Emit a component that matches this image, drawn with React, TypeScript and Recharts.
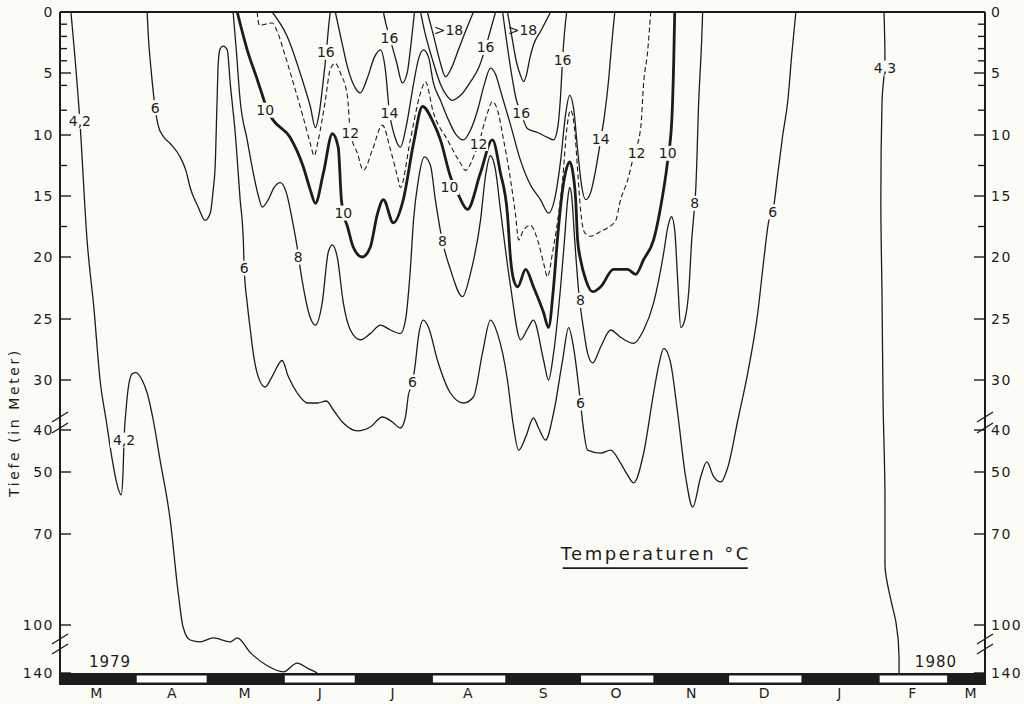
import { LineChart, Line, XAxis, YAxis, ReferenceDot, ReferenceArea, ReferenceLine } from "recharts";

const FONT = "'DejaVu Sans', 'Noto Sans', sans-serif";
const INK = "#1c1c1c";
const PAPER = "#fcfcf6";

// time axis: days since 1 March 1979
const MONTH_STARTS = [0, 31, 61, 92, 122, 153, 184, 214, 245, 275, 306, 337, 366, 381];
const MONTH_TICKS = [15, 46, 76, 107, 137, 168, 199, 229, 260, 290, 321, 351, 375];
const MONTH_LABELS = ["M", "A", "M", "J", "J", "A", "S", "O", "N", "D", "J", "F", "M"];

// broken depth axis (metres) -> plot units
const DEPTH_KNOTS = [0, 5, 10, 15, 20, 25, 30, 40, 50, 70, 100, 140];
const KNOT_POS = [0, 61, 123, 184, 245, 307, 368, 418, 460, 522, 613, 661];
const PLOT_H = 673;
const MAJOR_DEPTHS = [0, 5, 10, 15, 20, 25, 30, 40, 50, 70, 100, 140];
const MINOR_DEPTHS = [1, 2, 3, 4, 6, 8, 12.5, 17.5];
const BREAK_POS = [405, 416, 627, 637];

// isotherms: [day, depth m]
const ISO_42 = [[4.5, 0], [8.2, 8.9], [11.1, 18.5], [14, 24.2], [16.5, 30], [19, 38], [21.5, 47], [23.5, 54], [25.2, 57.4], [26, 49.5], [26.4, 42], [27.2, 36], [28, 32], [29.7, 29.5], [31.3, 29.4], [33.8, 30], [35.9, 32.6], [38.4, 38], [41.2, 47.1], [45.4, 65.5], [48.7, 89.5], [50.7, 101.7], [53.6, 112.5], [57.7, 114], [63.1, 110.8], [70.1, 114], [73, 110.8], [78.4, 123], [85.4, 134], [92, 139], [97.7, 131.7], [101.9, 136], [106, 140]];

const ISO_6 = [[35.9, 0], [36.3, 1.7], [37.5, 4.7], [39.2, 7.8], [40.4, 9.2], [42.5, 10.1], [45.4, 10.7], [49.5, 11.8], [52, 13], [53.6, 14.3], [56.9, 15.9], [59.8, 17], [61.9, 16.4], [63.1, 14.5], [63.9, 12.6], [64.7, 7.2], [65.2, 4.1], [66, 3], [67.2, 2.8], [68.9, 3.1], [70.1, 5.8], [72.2, 9.9], [74.2, 15.3], [75.5, 18.6], [75.9, 21], [77.1, 23.7], [78.4, 25.9], [79.6, 27.8], [81.6, 29.7], [84.5, 31.4], [87.4, 29.7], [91.5, 28.4], [94, 29.7], [97.7, 32.6], [101.9, 34.6], [106, 34.6], [109.7, 34.2], [112.6, 36], [116.7, 38.6], [122.5, 40.2], [127.8, 39.4], [132.8, 37.4], [136.9, 38.4], [140.2, 39.6], [142.3, 37.4], [143.5, 33], [145.2, 30.6], [146.4, 28.6], [147.6, 26.5], [149.7, 25.1], [151.8, 25.7], [155.5, 28.4], [160.8, 32.6], [166.2, 34.6], [170.3, 33.4], [174, 27.8], [177.3, 25.1], [180.2, 26.2], [184.3, 30], [186.4, 38], [188.9, 44.8], [191.8, 41.7], [195, 37.6], [197.1, 39.6], [200, 42.4], [203.3, 36.6], [207, 28.4], [209.5, 25.7], [211.5, 27.3], [214.4, 34.6], [215.3, 38.6], [217.3, 44.8], [222.7, 45.5], [226.8, 44.8], [230.9, 47.9], [233.8, 51], [236.3, 53.5], [240.4, 45.5], [244.5, 32.6], [246.6, 28.8], [248.7, 27.4], [251.5, 28.6], [254.4, 36.6], [257.7, 51.6], [260.6, 61.3], [263.9, 51.6], [266.4, 47.6], [269.3, 51.6], [272.2, 53.2], [275.1, 48.8], [279.2, 38], [283.3, 29.4], [287.4, 24.5], [289.9, 20.2], [292, 17], [293.6, 16.3], [295.7, 13.1], [297.7, 10], [299.8, 7.2], [301.4, 3.5], [303.1, 0]];

const ISO_8 = [[71.3, 0], [72.6, 3.1], [74.2, 7.2], [77.1, 10.4], [79.6, 13.1], [81.6, 14.9], [83.3, 15.9], [85.8, 15.3], [88.2, 14.3], [90.7, 13.9], [93.2, 14.7], [95.7, 17], [97.7, 19.2], [99, 21], [100.2, 22.4], [103.1, 24.9], [105.2, 25.5], [108, 23.7], [110.5, 19.6], [112.2, 19], [114.2, 20], [116.7, 23.7], [119.6, 25.9], [123.7, 26.7], [127.8, 26.2], [132, 25.5], [136.1, 25.9], [140.2, 26.2], [142.3, 25.1], [144.3, 21], [145.6, 17], [147.6, 13.7], [150.1, 11.8], [152.6, 12.5], [154.6, 15.3], [157.5, 18.7], [160.8, 21], [165.8, 23.2], [169.1, 21.3], [173.2, 17], [175.3, 13.3], [177.3, 11.7], [179.4, 12.9], [181.4, 16.1], [185.6, 22.4], [189.7, 26.7], [192.6, 25.8], [195, 25.1], [199.2, 28.4], [201.2, 30], [203.3, 27.8], [206.2, 22.4], [207.8, 18.6], [209.1, 15.3], [209.9, 14.3], [210.7, 14.9], [212, 18.6], [213.6, 22.7], [215.7, 25.9], [217.3, 27.8], [219.4, 28.6], [222.7, 27.3], [226.8, 25.9], [230.9, 26.5], [236.3, 27], [240.4, 25.9], [244.5, 23.7], [248.7, 19.6], [250.3, 17.6], [251.9, 16.7], [253.2, 17.8], [254.4, 21.8], [255.7, 25.7], [257.3, 25.1], [259, 22.7], [260.2, 18.6], [261, 16.7], [261.9, 14.3], [263.1, 7.2], [264.3, 2.3], [264.7, 0]];

const ISO_10 = [[73, 0], [77.1, 3.1], [81.2, 5.5], [83.7, 7], [85.4, 8], [87.8, 8.8], [94.8, 10.2], [100.2, 12.6], [103.1, 14.5], [105.2, 15.6], [108.5, 13.1], [112.2, 9.9], [114.6, 11], [115.9, 15.3], [116.7, 16.4], [118.4, 17.5], [120.8, 19.2], [124.5, 20], [127.8, 19.2], [130.7, 16.5], [133.2, 15.3], [137.3, 17.2], [141.4, 15.3], [145.6, 10.7], [149.3, 7.7], [153.8, 9], [156.7, 10.4], [160.8, 13.4], [164.1, 14.9], [167.8, 16.1], [173.2, 13.1], [178.1, 10.4], [181.4, 13.1], [184.3, 16.5], [185.6, 20.2], [186.8, 21.8], [188.5, 22.4], [191.8, 21], [195, 22.4], [199.2, 24.5], [201.2, 25.7], [203.3, 22.4], [205, 18.3], [207, 14.5], [208.7, 12.7], [209.9, 12.2], [211.1, 12.9], [212.4, 15.3], [213.2, 18.6], [214.4, 20.2], [216.5, 21.8], [219.4, 22.8], [222.7, 22.4], [228, 21], [233.8, 21], [237.1, 21.4], [240.4, 20.2], [244.5, 18.6], [247.4, 15.9], [250.3, 12.1], [252, 8.8], [252.8, 3.9], [253.2, 0]];

const ISO_12 = [[81.2, 0], [82.1, 1.1], [84.5, 1], [87.4, 0.9], [89.5, 1.6], [92, 3.1], [96.1, 5.8], [100.2, 8.6], [103.1, 10.7], [104.7, 11.7], [106.4, 10.4], [109.3, 7.2], [111.3, 4.7], [113.4, 4.2], [115.5, 5], [118.4, 6.9], [119.6, 9.8], [122.5, 11.5], [125, 12.9], [128.7, 11.2], [132.8, 9.2], [136.1, 11.2], [139, 13.4], [140.2, 14.3], [144.3, 10.4], [148.5, 6.6], [150.5, 5.7], [153.8, 8.2], [159.6, 10.4], [164.9, 12.3], [167, 12.9], [170.3, 11.8], [172.4, 10.7], [176.1, 8.2], [178.1, 7.3], [180.2, 8], [182.7, 10.4], [185.6, 13.7], [187.6, 16.5], [188.9, 18.6], [190.9, 17.8], [193.8, 17.4], [196.7, 18.6], [199.2, 20.5], [200.8, 21.6], [202.9, 19.6], [205, 17], [207, 13.7], [208.7, 9.6], [210.3, 8], [212, 9.6], [213.2, 12.9], [214.4, 16.1], [216.1, 18], [218.6, 18.3], [222.7, 17.9], [225.6, 17.6], [228.9, 17], [230.9, 15.3], [233.8, 13.7], [236.3, 11.7], [239.2, 9.4], [240.4, 5.8], [242.1, 3.1], [243.3, 0]];

const ISO_14 = [[113.4, 0], [115.9, 2.3], [118.4, 4.5], [121.6, 6.2], [123.7, 6.6], [126.6, 5.4], [129.5, 3.7], [132, 3.1], [134, 4.7], [135.7, 8.2], [137.7, 10], [140.2, 11], [142.7, 9.2], [145.6, 5.9], [147.6, 3.9], [149.7, 3.1], [151.8, 3.7], [153.8, 5.8], [156.7, 7.2], [159.6, 8.6], [162.9, 9.9], [166.2, 10.4], [169.1, 9.6], [172, 8], [174.8, 5.9], [177.3, 4.6], [179.4, 5.1], [181.4, 6.4], [185.6, 9.2], [189.7, 12.1], [193.8, 14.1], [197.9, 15.3], [201.2, 16.4], [204.1, 14.9], [206.2, 12.1], [208.2, 8.4], [209.9, 6.8], [211.5, 7.8], [213.2, 11.2], [214.8, 14.1], [216.5, 15.3], [218.6, 14.7], [220.6, 12.9], [222.7, 10.4], [224.3, 8.4], [226, 5.5], [227.2, 2.7], [228.5, 0]];

const ISO_16A = [[87.4, 0], [93.6, 2], [100.2, 5.8], [103.1, 7.7], [105.2, 9.4], [106.8, 8.2], [108.5, 5.5], [109.7, 3.3], [110.5, 1.5], [111.3, 0]];
const ISO_16B = [[133.2, 0], [134.4, 1.1], [136.1, 2.3], [138.6, 4.1], [141, 5.8], [143.1, 4.9], [144.3, 3.1], [145.2, 1.5], [146, 0]];
const ISO_16C = [[148.5, 0], [150.1, 1.5], [153.4, 3.9], [156.7, 5.9], [159.2, 6.8], [161.6, 7.2], [165, 6.8], [169.1, 5.7], [172.4, 4.6], [175.3, 2.9], [177.3, 1.5], [179.4, 0]];
const ISO_16D = [[182.3, 0], [183.9, 2.3], [186, 5.1], [188, 7.2], [189.7, 8.1], [192.6, 9.5], [196.7, 9.8], [200.8, 10.2], [203.3, 10.4], [205, 9.4], [206.2, 6.8], [207, 3.9], [207.8, 1.7], [208.7, 0]];
const ISO_18A = [[151.3, 0], [153.8, 1.9], [156.3, 3.9], [158.8, 5.3], [161.2, 4.6], [164.1, 3.1], [167, 1.6], [170.3, 0]];
const ISO_18B = [[184.3, 0], [186, 1.9], [188, 4.1], [189.7, 5.2], [191, 5.7], [192.2, 5.1], [193.4, 3.9], [195, 2.7], [197.9, 1.6], [200, 0.8], [202.1, 0]];

const ISO_43 = [[339.4, 0], [339.8, 3.9], [338.6, 7.2], [338.1, 15.3], [338.6, 23.4], [339, 34], [339.8, 59], [339.8, 80], [342.3, 92], [344.3, 99], [345.6, 127.5], [345.6, 140]];

// labels written on the isotherms: [text, day, depth]
const ISO_LABELS: [string, number, number][] = [
  ["4,2", 8.2, 8.9], ["4,2", 26.4, 42.4], ["6", 39.2, 7.8], ["10", 84.5, 8], ["6", 75.9, 20.9],
  ["8", 98.1, 20], ["12", 119.6, 9.8], ["10", 116.7, 16.4], ["16", 109.5, 3.3], ["16", 135.7, 2.1],
  ["14", 135.7, 8.2], [">18", 160, 1.5], ["16", 175.3, 2.9], [">18", 190.5, 1.5], ["16", 207, 3.9],
  ["16", 190, 8.2], ["12", 172.4, 10.7], ["10", 160.4, 14.3], ["8", 157.5, 18.7], ["6", 145.2, 30.4],
  ["14", 222.7, 10.3], ["12", 237.5, 11.5], ["10", 250.3, 11.5], ["8", 214.4, 23.5], ["6", 214.4, 34.6],
  ["8", 261.4, 15.6], ["6", 293.6, 16.3], ["4,3", 339.8, 4.6],
];

const toU = (d: number) => {
  for (let i = 1; i < DEPTH_KNOTS.length; i++) {
    if (d <= DEPTH_KNOTS[i]) {
      const t = (d - DEPTH_KNOTS[i - 1]) / (DEPTH_KNOTS[i] - DEPTH_KNOTS[i - 1]);
      return KNOT_POS[i - 1] + t * (KNOT_POS[i] - KNOT_POS[i - 1]);
    }
  }
  return KNOT_POS[KNOT_POS.length - 1];
};

const series = (pts: number[][]) => pts.map(([day, depth]) => ({ day, u: toU(depth) }));

// tick lookup for the custom depth ticks
const tickInfo = new Map<number, { kind: string; label?: string }>();
MAJOR_DEPTHS.forEach(d => tickInfo.set(Math.round(toU(d) * 10), { kind: "major", label: String(d) }));
MINOR_DEPTHS.forEach(d => tickInfo.set(Math.round(toU(d) * 10), { kind: "minor" }));
BREAK_POS.forEach(p => tickInfo.set(p * 10, { kind: "break" }));
const Y_TICKS = [...MAJOR_DEPTHS.map(toU), ...MINOR_DEPTHS.map(toU), ...BREAK_POS];

const DepthTick = (props: any) => {
  const { x, y, payload, side } = props;
  const info = tickInfo.get(Math.round(payload.value * 10));
  if (!info) return null;
  const dir = side === "left" ? 1 : -1;
  if (info.kind === "break") {
    return <line x1={x - 8} y1={y + 5} x2={x + 8} y2={y - 5} stroke={INK} strokeWidth={1.4} />;
  }
  const len = info.kind === "major" ? 11 : 7;
  return (
    <g>
      <line x1={x} y1={y} x2={x + dir * len} y2={y} stroke={INK} strokeWidth={1.4} />
      {info.label && (
        <text x={x - dir * 6} y={y} textAnchor={side === "left" ? "end" : "start"} dominantBaseline="central"
          fontSize={14} fontFamily={FONT} fill={INK} letterSpacing={1.5}>{info.label}</text>
      )}
    </g>
  );
};

const textShape = (text: string, size: number, boxed: boolean, spacing = 0) => (p: any) => {
  const w = text.length * size * 0.62 + 2;
  const h = size + 1;
  return (
    <g>
      {boxed && <rect x={p.cx - w / 2} y={p.cy - h / 2} width={w} height={h} fill={PAPER} />}
      <text x={p.cx} y={p.cy} textAnchor="middle" dominantBaseline="central" fontSize={size}
        fontFamily={FONT} fill={INK} letterSpacing={spacing}>{text}</text>
    </g>
  );
};

const titleShape = (p: any) => (
  <g>
    <text x={p.cx} y={p.cy} textAnchor="middle" dominantBaseline="central" fontSize={18}
      fontFamily={FONT} fill={INK} letterSpacing={2.5}>Temperaturen °C</text>
    <line x1={p.cx - 93} y1={p.cy + 15} x2={p.cx + 92} y2={p.cy + 15} stroke={INK} strokeWidth={1.6} />
  </g>
);

const yTitle = (p: any) => {
  const vb = p.viewBox;
  const cx = 14;
  const cy = vb.y + vb.height * 0.61;
  return (
    <text x={cx} y={cy} transform={`rotate(-90 ${cx} ${cy})`} textAnchor="middle" dominantBaseline="central"
      fontSize={14} fontFamily={FONT} fill={INK} letterSpacing={2.6}>Tiefe (in Meter)</text>
  );
};

const thin = { stroke: INK, strokeWidth: 1.3, dot: false, activeDot: false, isAnimationActive: false } as const;
const THIN_LINES = [ISO_42, ISO_6, ISO_8, ISO_14, ISO_16A, ISO_16B, ISO_16C, ISO_16D, ISO_18A, ISO_18B];

export default function App() {
  return (
    <div style={{ position: "absolute", left: 0, top: 0, width: 1024, height: 704, background: PAPER }}>
      <LineChart width={1024} height={704} margin={{ top: 12, right: 0, bottom: 0, left: 0 }}>
        <XAxis type="number" dataKey="day" domain={[0, 381]} ticks={MONTH_TICKS} interval={0}
          tickFormatter={(v: number) => MONTH_LABELS[MONTH_TICKS.indexOf(v)]} axisLine={false} tickLine={false}
          tickSize={0} tickMargin={3} height={19} allowDataOverflow
          tick={{ fill: INK, fontSize: 14, fontFamily: FONT }} />
        <YAxis yAxisId="l" type="number" dataKey="u" domain={[0, PLOT_H]} reversed ticks={Y_TICKS} interval={0}
          width={60} tickLine={false} tickSize={0} tickMargin={0} allowDataOverflow
          axisLine={{ stroke: INK, strokeWidth: 2 }} tick={(p: any) => <DepthTick {...p} side="left" />}
          label={{ content: yTitle }} />
        <YAxis yAxisId="r" orientation="right" type="number" dataKey="u" domain={[0, PLOT_H]} reversed ticks={Y_TICKS}
          interval={0} width={39} tickLine={false} tickSize={0} tickMargin={0} allowDataOverflow
          axisLine={{ stroke: INK, strokeWidth: 2 }} tick={(p: any) => <DepthTick {...p} side="right" />} />

        <ReferenceLine yAxisId="l" y={0} stroke={INK} strokeWidth={2.2} />
        <ReferenceArea yAxisId="l" x1={0} x2={381} y1={KNOT_POS[KNOT_POS.length - 1]} y2={PLOT_H} fill={INK} fillOpacity={1} stroke="none" />
        {MONTH_STARTS.slice(0, -1).map((s, i) => i % 2 === 1 ? (
          <ReferenceArea key={i} yAxisId="l" x1={s + 0.6} x2={MONTH_STARTS[i + 1] - 0.6} y1={KNOT_POS[KNOT_POS.length - 1] + 2.5}
            y2={PLOT_H - 2.5} fill="#ffffff" fillOpacity={1} stroke="none" />
        ) : null)}

        {THIN_LINES.map((pts, i) => (
          <Line key={i} yAxisId="l" data={series(pts)} dataKey="u" type="monotone" {...thin} />
        ))}
        <Line yAxisId="l" data={series(ISO_12)} dataKey="u" type="monotone" {...thin} strokeWidth={1.1} strokeDasharray="5 3" />
        <Line yAxisId="l" data={series(ISO_10)} dataKey="u" type="monotone" {...thin} strokeWidth={2.8} />
        <Line yAxisId="l" data={series(ISO_43)} dataKey="u" type="monotoneY" {...thin} />

        {ISO_LABELS.map(([t, day, depth], i) => (
          <ReferenceDot key={i} yAxisId="l" x={day} y={toU(depth)} r={1} shape={textShape(t, 14, !t.startsWith(">"))} />
        ))}
        <ReferenceDot yAxisId="l" x={20.6} y={toU(131)} r={1} shape={textShape("1979", 15, false, 1)} />
        <ReferenceDot yAxisId="l" x={360.8} y={toU(131)} r={1} shape={textShape("1980", 15, false, 1)} />
        <ReferenceDot yAxisId="l" x={245.4} y={toU(76.3)} r={1} shape={titleShape} />
      </LineChart>
    </div>
  );
}
